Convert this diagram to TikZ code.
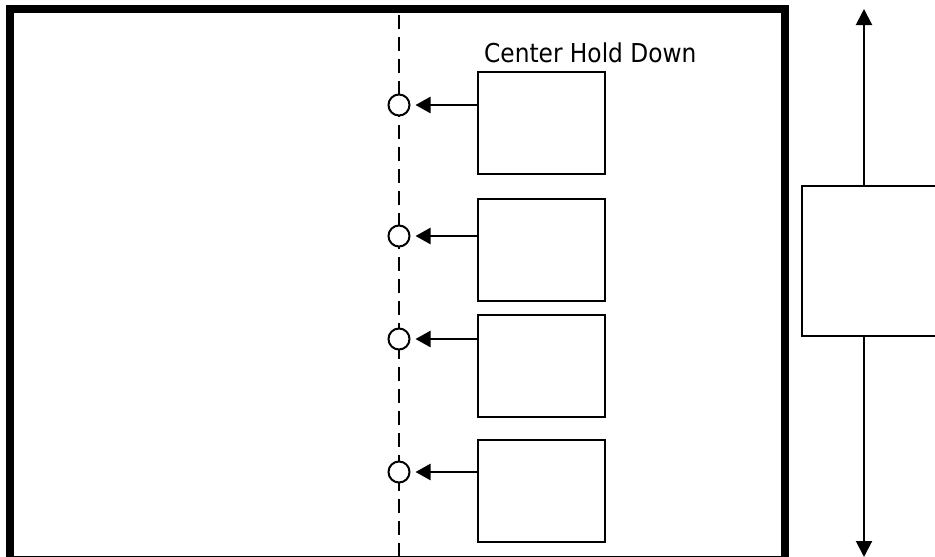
\documentclass[tikz,border=0pt]{standalone}
\usepackage{fontspec}
\setmainfont{DejaVu Sans}[FakeStretch=0.896]
\usetikzlibrary{arrows.meta}
\tikzset{
  x=1pt,y=-1pt,
  framebox/.style={draw=black,line width=8pt,line join=miter},
  holdbox/.style={draw=black,fill=white,line width=2pt,minimum width=126.5pt,minimum height=102pt,inner sep=0pt,outer sep=0pt,anchor=north west},
  pivot/.style={circle,draw=black,fill=white,line width=2pt,minimum size=21pt,inner sep=0pt,outer sep=0pt},
  centerline/.style={draw=black,line width=2pt,dash pattern=on 14pt off 8pt},
  push/.style={draw=black,line width=2.5pt,shorten >=6pt,-{Triangle[length=15pt,width=16pt]}},
  travel/.style={draw=black,line width=2pt,-{Triangle[length=16pt,width=16pt]}},
  slidebox/.style={draw=black,fill=white,line width=2pt,minimum width=160pt,minimum height=150pt,inner sep=0pt,outer sep=0pt,anchor=north west},
  caption/.style={font=\fontsize{26}{30}\selectfont,inner sep=0pt,anchor=base west},
}
\begin{document}
\begin{tikzpicture}
\path[use as bounding box] (0,0) rectangle (935,557);
\clip (0,0) rectangle (935,557);
\fill[white] (0,0) rectangle (935,557);
\draw[framebox] (10,8.7) rectangle (785,560);
\coordinate (dashtop) at (398.5,15);
\coordinate (dashbot) at (398.5,556);
\draw[centerline] (dashtop) -- (dashbot);
\node[pivot] (c1) at (399,105) {};
\node[pivot] (c2) at (399,236) {};
\node[pivot] (c3) at (399,339) {};
\node[pivot] (c4) at (399,472) {};
\node[holdbox] (b1) at (478,72) {};
\node[holdbox] (b2) at (478,199) {};
\node[holdbox] (b3) at (478,315) {};
\node[holdbox] (b4) at (478,440) {};
\draw[push] (b1.west |- c1) -- (c1.east);
\draw[push] (b2.west |- c2) -- (c2.east);
\draw[push] (b3.west |- c3) -- (c3.east);
\draw[push] (b4.west |- c4) -- (c4.east);
\node[caption] (title) at (484,62) {Center Hold Down};
\node[slidebox] (slider) at (802,186) {};
\coordinate (uptip) at (864,9);
\coordinate (downtip) at (864,557);
\draw[travel] (uptip |- slider.north) -- (uptip);
\draw[travel] (downtip |- slider.south) -- (downtip);
\end{tikzpicture}
\end{document}
